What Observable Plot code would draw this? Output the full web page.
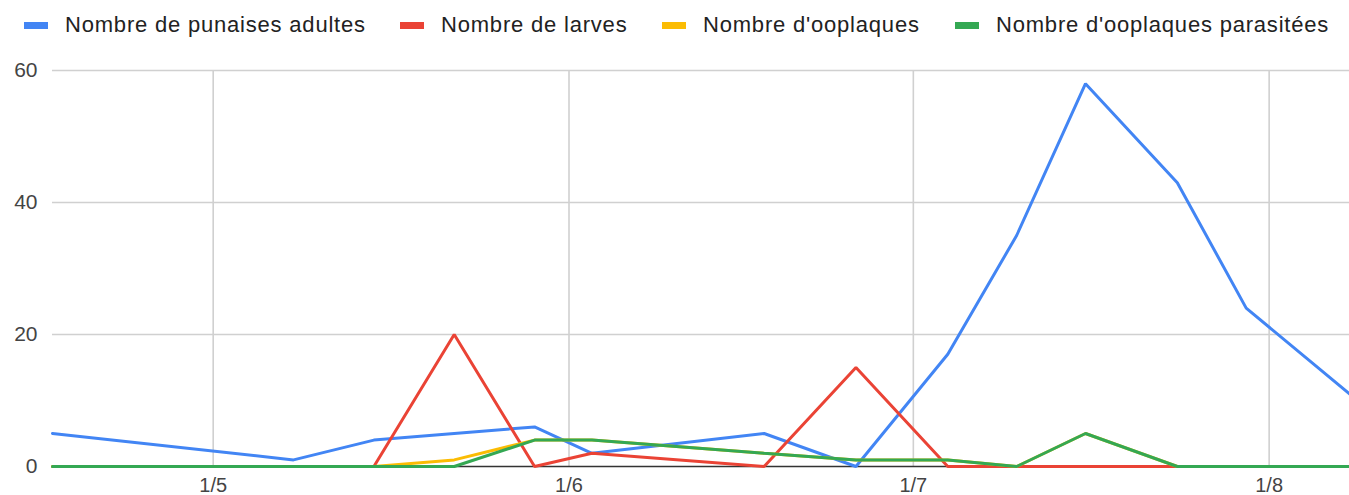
<!DOCTYPE html>
<html>
<head>
<meta charset="utf-8">
<script src="https://cdn.jsdelivr.net/npm/d3@7"></script>
<script src="https://cdn.jsdelivr.net/npm/@observablehq/plot@0.6"></script>
<style>
  html, body { margin: 0; padding: 0; background: #fff; }
  body { width: 1349px; height: 495px; overflow: hidden; font-family: Arial, "Liberation Sans", sans-serif; }
  #legend { position: relative; height: 50px; }
  .item { position: absolute; top: 12px; height: 26px; display: flex; align-items: center; }
  .sw { width: 24px; height: 7px; margin-right: 17px; }
  .lab { font-size: 22px; letter-spacing: 0.8px; color: #222; white-space: nowrap; }
  #chart svg { display: block; }
</style>
</head>
<body>
<div id="legend"></div>
<div id="chart"></div>
<script>
const dates = ["2023-04-17","2023-05-08","2023-05-15","2023-05-22","2023-05-29","2023-06-03","2023-06-18","2023-06-26","2023-07-04","2023-07-10","2023-07-16","2023-07-24","2023-07-30","2023-08-08"];
const adultes    = [5, 1, 4, 5, 6, 2, 5, 0, 17, 35, 58, 43, 24, 11];
const larves     = [0, 0, 0, 20, 0, 2, 0, 15, 0, 0, 0, 0, 0, 0];
const ooplaques  = [0, 0, 0, 1, 4, 4, 2, 1, 1, 0, 5, 0, 0, 0];
const parasitees = [0, 0, 0, 0, 4, 4, 2, 1, 1, 0, 5, 0, 0, 0];
const seriesNames = ["Nombre de punaises adultes", "Nombre de larves", "Nombre d'ooplaques", "Nombre d'ooplaques parasitées"];
const seriesColors = ["#4285F4", "#EA4335", "#FBBC04", "#34A853"];
const yTicks = [0, 20, 40, 60];
const xTickDates = ["2023-05-01", "2023-06-01", "2023-07-01", "2023-08-01"];
const legendX = [24, 400, 662, 955];

const parse = d3.utcParse("%Y-%m-%d");
const xs = dates.map(parse);
const values = [adultes, larves, ooplaques, parasitees];
const rows = values.map((vals, s) => vals.map((v, i) => ({date: xs[i], value: v, series: seriesNames[s]})));
const xTicks = xTickDates.map(parse);

// Legend
const legend = document.getElementById("legend");
seriesNames.forEach((name, i) => {
  const it = document.createElement("div");
  it.className = "item";
  it.style.left = legendX[i] + "px";
  it.innerHTML = `<div class="sw" style="background:${seriesColors[i]}"></div><div class="lab"></div>`;
  it.querySelector(".lab").textContent = name;
  legend.appendChild(it);
});

const chart = Plot.plot({
  width: 1349,
  height: 445,
  marginLeft: 52,
  marginRight: 0,
  marginTop: 20,
  marginBottom: 29,
  style: {fontFamily: 'Arial, "Liberation Sans", sans-serif', fontSize: "20px", color: "#444", background: "#fff"},
  x: {type: "utc", domain: d3.extent(xs)},
  y: {domain: [0, 60]},
  marks: [
    Plot.ruleY(yTicks.filter(d => d !== 0), {stroke: "#d0d0d0", strokeWidth: 1.6}),
    Plot.ruleX(xTicks, {stroke: "#d0d0d0", strokeWidth: 1.6}),
    Plot.ruleY([0], {stroke: "#333", strokeWidth: 1.6}),
    Plot.axisY({ticks: yTicks, tickSize: 0, tickPadding: 15, label: null, fontSize: 21}),
    Plot.axisX({ticks: xTicks, tickFormat: d => `${d.getUTCDate()}/${d.getUTCMonth() + 1}`, tickSize: 0, tickPadding: 11, label: null, fontSize: 20}),
    ...rows.map((r, s) => Plot.line(r, {x: "date", y: "value", stroke: seriesColors[s], strokeWidth: 3, strokeLinejoin: "miter", curve: "linear"}))
  ]
});
document.getElementById("chart").appendChild(chart);
</script>
</body>
</html>
